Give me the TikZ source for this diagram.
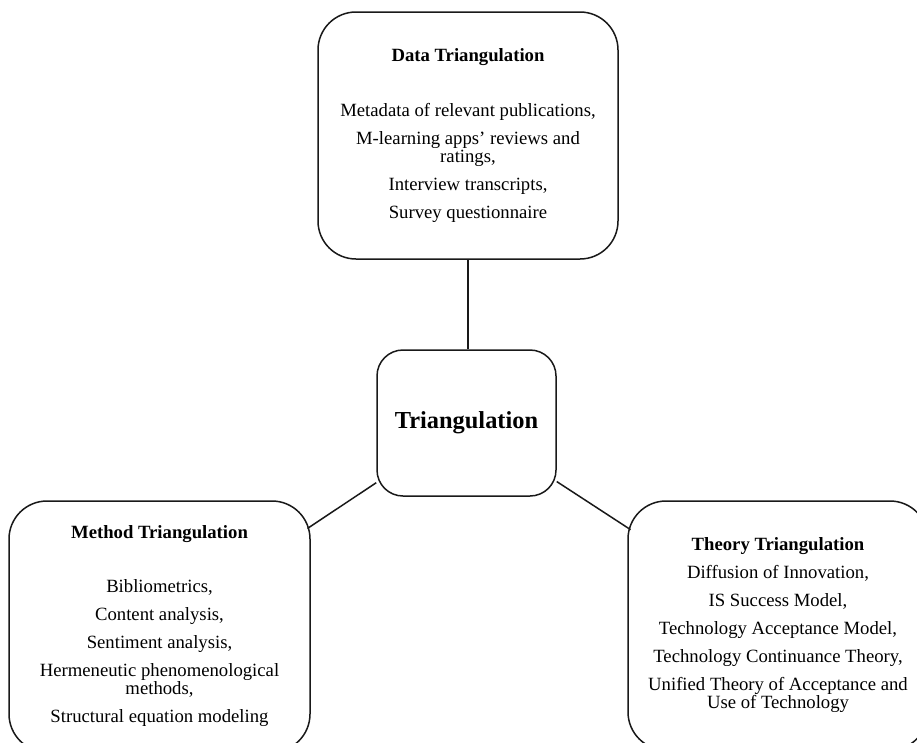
\documentclass[tikz,border=0pt]{standalone}
\usepackage{fontspec}
\setmainfont{Liberation Serif}
\begin{document}
\begin{tikzpicture}[x=1pt,y=1pt,
  box/.style={draw=black!90, line width=1.5pt, align=center, inner sep=0pt,
    font=\fontsize{18.7}{18}\selectfont},
  bigbox/.style={box, rounded corners=38pt, minimum width=300pt, minimum height=248pt},
  hub/.style={box, rounded corners=26pt, minimum width=179pt, minimum height=146pt,
    font=\fontsize{24.4}{28}\selectfont\bfseries},
  link/.style={draw=black!90, line width=1.5pt}]
\useasboundingbox (0,0) rectangle (917,-742);
\clip (0,0) rectangle (917,-742);

% central node
\node[hub] (center) at (466.5,-423) {Triangulation};

% the three kinds of triangulation
\node[bigbox, minimum height=247pt] (data) at (468,-135.5)
  {\textbf{Data Triangulation}\\[37pt]
   Metadata of relevant publications,\\[10pt]
   M-learning apps’ reviews and\\ ratings,\\[10pt]
   Interview transcripts,\\[10pt]
   Survey questionnaire};

\node[bigbox, minimum width=301pt, minimum height=251pt] (method) at (159.5,-626.5)
  {\textbf{Method Triangulation}\\[36pt]
   Bibliometrics,\\[10pt]
   Content analysis,\\[10pt]
   Sentiment analysis,\\[10pt]
   Hermeneutic phenomenological\\ methods,\\[10pt]
   Structural equation modeling};

\node[bigbox, minimum height=249pt] (theory) at (778,-625.5)
  {\textbf{Theory Triangulation}\\[10pt]
   Diffusion of Innovation,\\[10pt]
   IS Success Model,\\[10pt]
   Technology Acceptance Model,\\[10pt]
   Technology Continuance Theory,\\[10pt]
   Unified Theory of Acceptance and\\ Use of Technology};

% connectors
\path[link] (data.south) -- (data.south |- center.north);
\path[link, shorten <=-4pt] (method) -- (center);
\path[link, shorten <=-4pt] (theory) -- (center);
\end{tikzpicture}
\end{document}
